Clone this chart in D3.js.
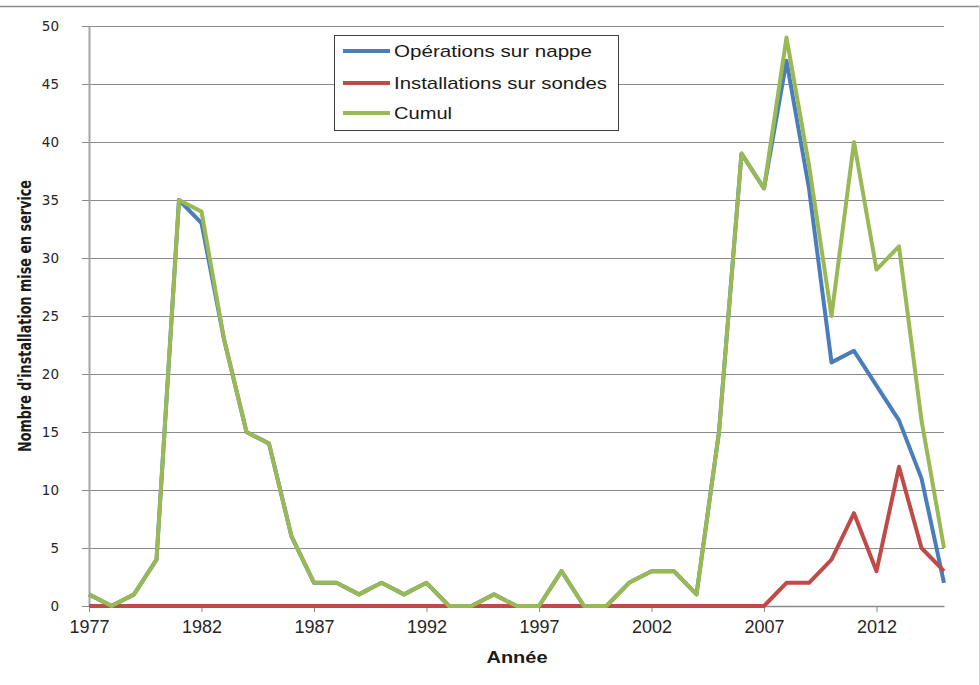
<!DOCTYPE html>
<html>
<head>
<meta charset="utf-8">
<script src="https://cdn.jsdelivr.net/npm/d3@7"></script>
<style>
  html, body { margin: 0; padding: 0; background: #fff; }
  svg { display: block; }
</style>
</head>
<body>
<svg id="chart" width="980" height="685"></svg>
<script>
// ---- data ----
const years = d3.range(1977, 2016);
const nappe  = [1,0,1,4,35,33,23,15,14,6,2,2,1,2,1,2,0,0,1,0,0,3,0,0,2,3,3,1,15,39,36,47,36,21,22,19,16,11,2];
const sondes = [0,0,0,0,0,0,0,0,0,0,0,0,0,0,0,0,0,0,0,0,0,0,0,0,0,0,0,0,0,0,0,2,2,4,8,3,12,5,3];
const cumul  = [1,0,1,4,35,34,23,15,14,6,2,2,1,2,1,2,0,0,1,0,0,3,0,0,2,3,3,1,15,39,36,49,38,25,40,29,31,16,5];
const seriesNames = ["Opérations sur nappe", "Installations sur sondes", "Cumul"];
const seriesColors = ["#4a7ebb", "#be4b48", "#98b954"];
const xTickLabels = [1977, 1982, 1987, 1992, 1997, 2002, 2007, 2012];
const yTickLabels = [0, 5, 10, 15, 20, 25, 30, 35, 40, 45, 50];
const xTitle = "Année";
const yTitle = "Nombre d'installation mise en service";

// ---- layout ----
const svg = d3.select("#chart");
const L = 89, R = 944, T = 26, B = 606;
const x = d3.scaleLinear().domain([1977, 2015]).range([L, R]);
const y = d3.scaleLinear().domain([0, 50]).range([B, T]);

// outer frame lines (top and right)
svg.append("line").attr("x1", 0).attr("x2", 980).attr("y1", 6.5).attr("y2", 6.5)
  .attr("stroke", "#8c8c8c").attr("stroke-width", 1.5);
svg.append("line").attr("x1", 979.5).attr("x2", 979.5).attr("y1", 6).attr("y2", 685)
  .attr("stroke", "#d0d0d0").attr("stroke-width", 1);

// gridlines
svg.append("g").selectAll("line").data(yTickLabels.filter(v => v > 0)).join("line")
  .attr("x1", L).attr("x2", R)
  .attr("y1", d => Math.round(y(d)) + 0.5).attr("y2", d => Math.round(y(d)) + 0.5)
  .attr("stroke", "#8a8a8a").attr("stroke-width", 1);

// y axis
const yAxis = svg.append("g").attr("transform", `translate(${L},0)`)
  .call(d3.axisLeft(y).tickValues(yTickLabels).tickSize(7).tickPadding(23).tickSizeOuter(0));
yAxis.select(".domain").attr("stroke", "#a6a6a6").attr("stroke-width", 2);
yAxis.selectAll(".tick line").attr("stroke", "#8a8a8a");
yAxis.selectAll(".tick text").attr("font-family", "DejaVu Sans, Verdana, sans-serif")
  .attr("font-size", 13.5).attr("fill", "#262626");

// x axis
const xAxis = svg.append("g").attr("transform", `translate(0,${B})`)
  .call(d3.axisBottom(x).tickValues(xTickLabels).tickFormat(d3.format("d")).tickSize(6).tickPadding(8).tickSizeOuter(0));
xAxis.select(".domain").attr("stroke", "#8a8a8a").attr("stroke-width", 1.5);
xAxis.selectAll(".tick line").attr("stroke", "#8a8a8a");
xAxis.selectAll(".tick text").attr("font-family", "Liberation Sans, Arial, sans-serif")
  .attr("font-size", 18).attr("fill", "#262626");

// axis titles
svg.append("text").attr("x", 517).attr("y", 663).attr("text-anchor", "middle")
  .attr("font-family", "Liberation Sans, Arial, sans-serif").attr("font-weight", "bold")
  .attr("font-size", 17).attr("fill", "#1a1a1a")
  .attr("textLength", 61).attr("lengthAdjust", "spacingAndGlyphs").text(xTitle);
svg.append("text").attr("transform", "translate(31,316) rotate(-90)").attr("text-anchor", "middle")
  .attr("font-family", "Liberation Sans Narrow, DejaVu Sans Condensed, Arial Narrow, sans-serif")
  .attr("font-weight", "bold").attr("font-size", 17).attr("fill", "#1a1a1a")
  .attr("textLength", 272).attr("lengthAdjust", "spacingAndGlyphs").text(yTitle);

// lines
const dataSets = [nappe, sondes, cumul];
const line = d3.line().x((d, i) => x(years[i])).y(d => y(d));
svg.append("g").selectAll("path").data(dataSets).join("path")
  .attr("d", d => line(d))
  .attr("fill", "none")
  .attr("stroke", (d, i) => seriesColors[i])
  .attr("stroke-width", 4)
  .attr("stroke-linejoin", "round")
  .attr("stroke-linecap", "butt");

// legend
const lg = svg.append("g");
lg.append("rect").attr("x", 334.5).attr("y", 35.5).attr("width", 284).attr("height", 95)
  .attr("fill", "#fff").attr("stroke", "#404040").attr("stroke-width", 1);
const rowY = [51, 83, 113];
const textW = [198, 213, 58];
seriesNames.forEach((name, i) => {
  lg.append("line").attr("x1", 343).attr("x2", 390).attr("y1", rowY[i]).attr("y2", rowY[i])
    .attr("stroke", seriesColors[i]).attr("stroke-width", 4);
  lg.append("text").attr("x", 394).attr("y", rowY[i] + 6)
    .attr("font-family", "Liberation Sans, Arial, sans-serif").attr("font-size", 17)
    .attr("fill", "#1a1a1a")
    .attr("textLength", textW[i]).attr("lengthAdjust", "spacingAndGlyphs").text(name);
});
</script>
</body>
</html>
